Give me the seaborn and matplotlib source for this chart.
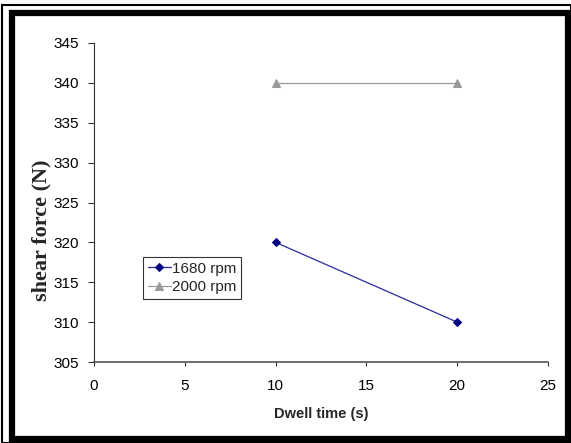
import matplotlib
matplotlib.use("Agg")
import matplotlib.pyplot as plt
import seaborn as sns
import pandas as pd
from matplotlib.patches import Rectangle

sns.set_theme(style="white")
plt.rcParams['font.family'] = ['Liberation Sans Narrow', 'Liberation Sans', 'DejaVu Sans']

dwell = [10, 20]
force_1680 = [320, 310]
force_2000 = [340, 340]
series_names = ["1680 rpm", "2000 rpm"]
x_ticks = [0, 5, 10, 15, 20, 25]
y_ticks = [305, 310, 315, 320, 325, 330, 335, 340, 345]

df = pd.DataFrame({
    "dwell": dwell + dwell,
    "force": force_1680 + force_2000,
    "rpm": [series_names[0]] * len(dwell) + [series_names[1]] * len(dwell),
})

fig = plt.figure(figsize=(5.71, 4.43), dpi=100)
ax = fig.add_axes([94 / 571, 1 - 362 / 443, (548 - 94) / 571, (362 - 43) / 443])

sns.lineplot(data=df[df.rpm == series_names[0]], x="dwell", y="force", ax=ax,
             color="#2a2aa0", marker="D", markersize=4.5, markerfacecolor="#000080",
             markeredgecolor="#000080", linewidth=0.9, label=series_names[0])
sns.lineplot(data=df[df.rpm == series_names[1]], x="dwell", y="force", ax=ax,
             color="#999999", marker="^", markersize=6, markerfacecolor="#999999",
             markeredgecolor="#999999", linewidth=0.9, label=series_names[1])

ax.set_xlim(0, 25)
ax.set_ylim(305, 345)
ax.set_xticks(x_ticks)
ax.set_yticks(y_ticks)
ax.tick_params(axis="both", which="both", direction="out", width=0.8,
               colors="#333333", labelsize=11, labelcolor="black", bottom=True, left=True)
ax.tick_params(axis="x", length=3, pad=9)
ax.tick_params(axis="y", length=4, pad=7)
for s in ["top", "right"]:
    ax.spines[s].set_visible(False)
ax.spines["left"].set_color("#333333")
ax.spines["bottom"].set_color("#555555")
ax.spines["left"].set_linewidth(0.8)
ax.spines["bottom"].set_linewidth(1.2)

ax.set_xlabel("Dwell time (s)", fontsize=10.5, fontweight="bold", labelpad=10)
ax.set_ylabel("shear force (N)", fontsize=16, fontweight="bold",
              family=["Liberation Serif", "DejaVu Serif"])
ax.yaxis.set_label_coords(-0.093, 0.414)

leg = ax.legend(loc="upper left", bbox_to_anchor=((143 - 94) / 454, 1 - (257 - 43) / 319),
                frameon=True, fancybox=False, fontsize=11, handlelength=1.5,
                handletextpad=0.1, borderpad=0.3, labelspacing=0.3, borderaxespad=0)
leg.get_frame().set_edgecolor("black")
leg.get_frame().set_linewidth(0.8)

# double frame
fig.patches.append(Rectangle((2 / 571, 0), 1 - 2 / 571, 1 - 5 / 443, transform=fig.transFigure,
                             fill=False, edgecolor="black", linewidth=1.5, figure=fig))
fig.patches.append(Rectangle((12 / 571, 4 / 443), 1 - 15 / 571, 1 - 17 / 443, transform=fig.transFigure,
                             fill=False, edgecolor="black", linewidth=4.5, figure=fig))

fig.savefig("out.png", dpi=100)
